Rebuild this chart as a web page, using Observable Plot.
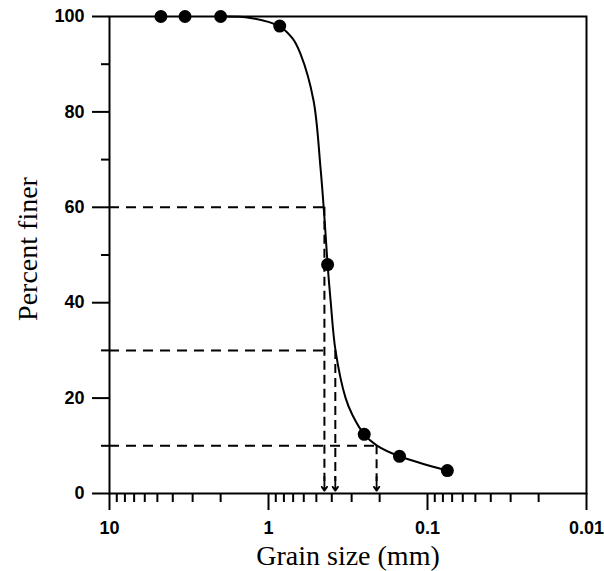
<!DOCTYPE html>
<html>
<head>
<meta charset="utf-8">
<script src="https://cdn.jsdelivr.net/npm/d3@7"></script>
<script src="https://cdn.jsdelivr.net/npm/@observablehq/plot@0.6"></script>
<style>
  html, body { margin: 0; padding: 0; background: #fff; }
  #chart svg g[aria-label$="tick label"],
  #chart svg g[aria-label$="tick label"] text {
    font-weight: bold;
    font-family: 'Liberation Sans', Arial, sans-serif;
    font-size: 18px;
  }
</style>
</head>
<body>
<div id="chart"></div>
<script>
// Measured sieve data
const sieveSize = [4.75, 3.35, 2.0, 0.85, 0.425, 0.25, 0.15, 0.075];
const percentFiner = [100, 100, 100, 98, 48, 12.4, 7.8, 4.8];

// Smooth gradation curve
const curveSize = [2.0, 1.30, 0.85, 0.706, 0.63, 0.521, 0.471, 0.445, 0.425, 0.407, 0.379, 0.328, 0.296, 0.25, 0.209, 0.15, 0.075];
const curvePercent = [100, 99.7, 97.9, 95.4, 92.2, 82.4, 68.3, 57.9, 48, 40.5, 30, 20.1, 16.4, 12.4, 10.1, 7.8, 4.8];

// D60, D30, D10 construction lines
const dName = ["D60", "D30", "D10"];
const dPercent = [60, 30, 10];
const dSize = [0.445, 0.38, 0.209];
const hLineEnd = [0.445, 0.438, 0.209];

// Axis ticks
const xMajorTicks = [10, 1, 0.1, 0.01];
const xTickLabels = ["10", "1", "0.1", "0.01"];
const xMinorTicks = [9, 8, 7, 6, 5, 4, 3, 2, 0.9, 0.8, 0.7, 0.6, 0.5, 0.4, 0.3, 0.2, 0.09, 0.08, 0.07, 0.06, 0.05, 0.04, 0.03, 0.02];
const yMajorTicks = [0, 20, 40, 60, 80, 100];
const yMinorTicks = [10, 30, 50, 70, 90];

const xLabel = "Grain size (mm)";
const yLabel = "Percent finer";

const points = sieveSize.map((s, i) => ({size: s, pct: percentFiner[i]}));
const curve = curveSize.map((s, i) => ({size: s, pct: curvePercent[i]}));
const guides = dName.map((n, i) => ({name: n, pct: dPercent[i], size: dSize[i], hEnd: hLineEnd[i]}));

const dash = "10,7";
const serif = "'Liberation Serif', 'Times New Roman', serif";

const chart = Plot.plot({
  width: 604,
  height: 571,
  marginLeft: 109,
  marginRight: 18,
  marginTop: 16,
  marginBottom: 78,
  style: {background: "#fff", color: "#000"},
  x: {type: "log", domain: [10, 0.01]},
  y: {domain: [0, 100]},
  marks: [
    Plot.axisX(xMajorTicks, {tickSize: 17, tickPadding: 11, strokeWidth: 2,
      tickFormat: d => xTickLabels[xMajorTicks.indexOf(d)], label: null}),
    Plot.axisX(xMinorTicks, {tickSize: 9, strokeWidth: 2, tickFormat: () => "", label: null}),
    Plot.axisY(yMajorTicks, {tickSize: 17, tickPadding: 8, strokeWidth: 2, label: null}),
    Plot.axisY(yMinorTicks, {tickSize: 8, strokeWidth: 2, tickFormat: () => "", label: null}),
    Plot.ruleY(guides, {y: "pct", x1: 10, x2: "hEnd", stroke: "#000", strokeWidth: 2, strokeDasharray: dash}),
    Plot.ruleX(guides, {x: "size", y1: "pct", y2: 2.5, stroke: "#000", strokeWidth: 2, strokeDasharray: "9,5"}),
    Plot.arrow(guides, {x1: "size", x2: "size", y1: 3.5, y2: 0.6, stroke: "#000", strokeWidth: 1.8, headLength: 9, headAngle: 70}),
    Plot.line(curve, {x: "size", y: "pct", curve: "catmull-rom", stroke: "#000", strokeWidth: 2}),
    Plot.dot(points, {x: "size", y: "pct", r: 6.5, fill: "#000"}),
    Plot.frame({stroke: "#000", strokeWidth: 2}),
    Plot.text([yLabel], {text: d => d, frameAnchor: "left", textAnchor: "middle", lineAnchor: "middle", dx: -81, dy: -6, rotate: -90, fontSize: 28, fontFamily: serif, fill: "#000"}),
    Plot.text([xLabel], {text: d => d, frameAnchor: "bottom", textAnchor: "middle", lineAnchor: "middle", dy: 63, fontSize: 28, fontFamily: serif, fill: "#000"})
  ]
});
document.getElementById("chart").appendChild(chart);
</script>
</body>
</html>
